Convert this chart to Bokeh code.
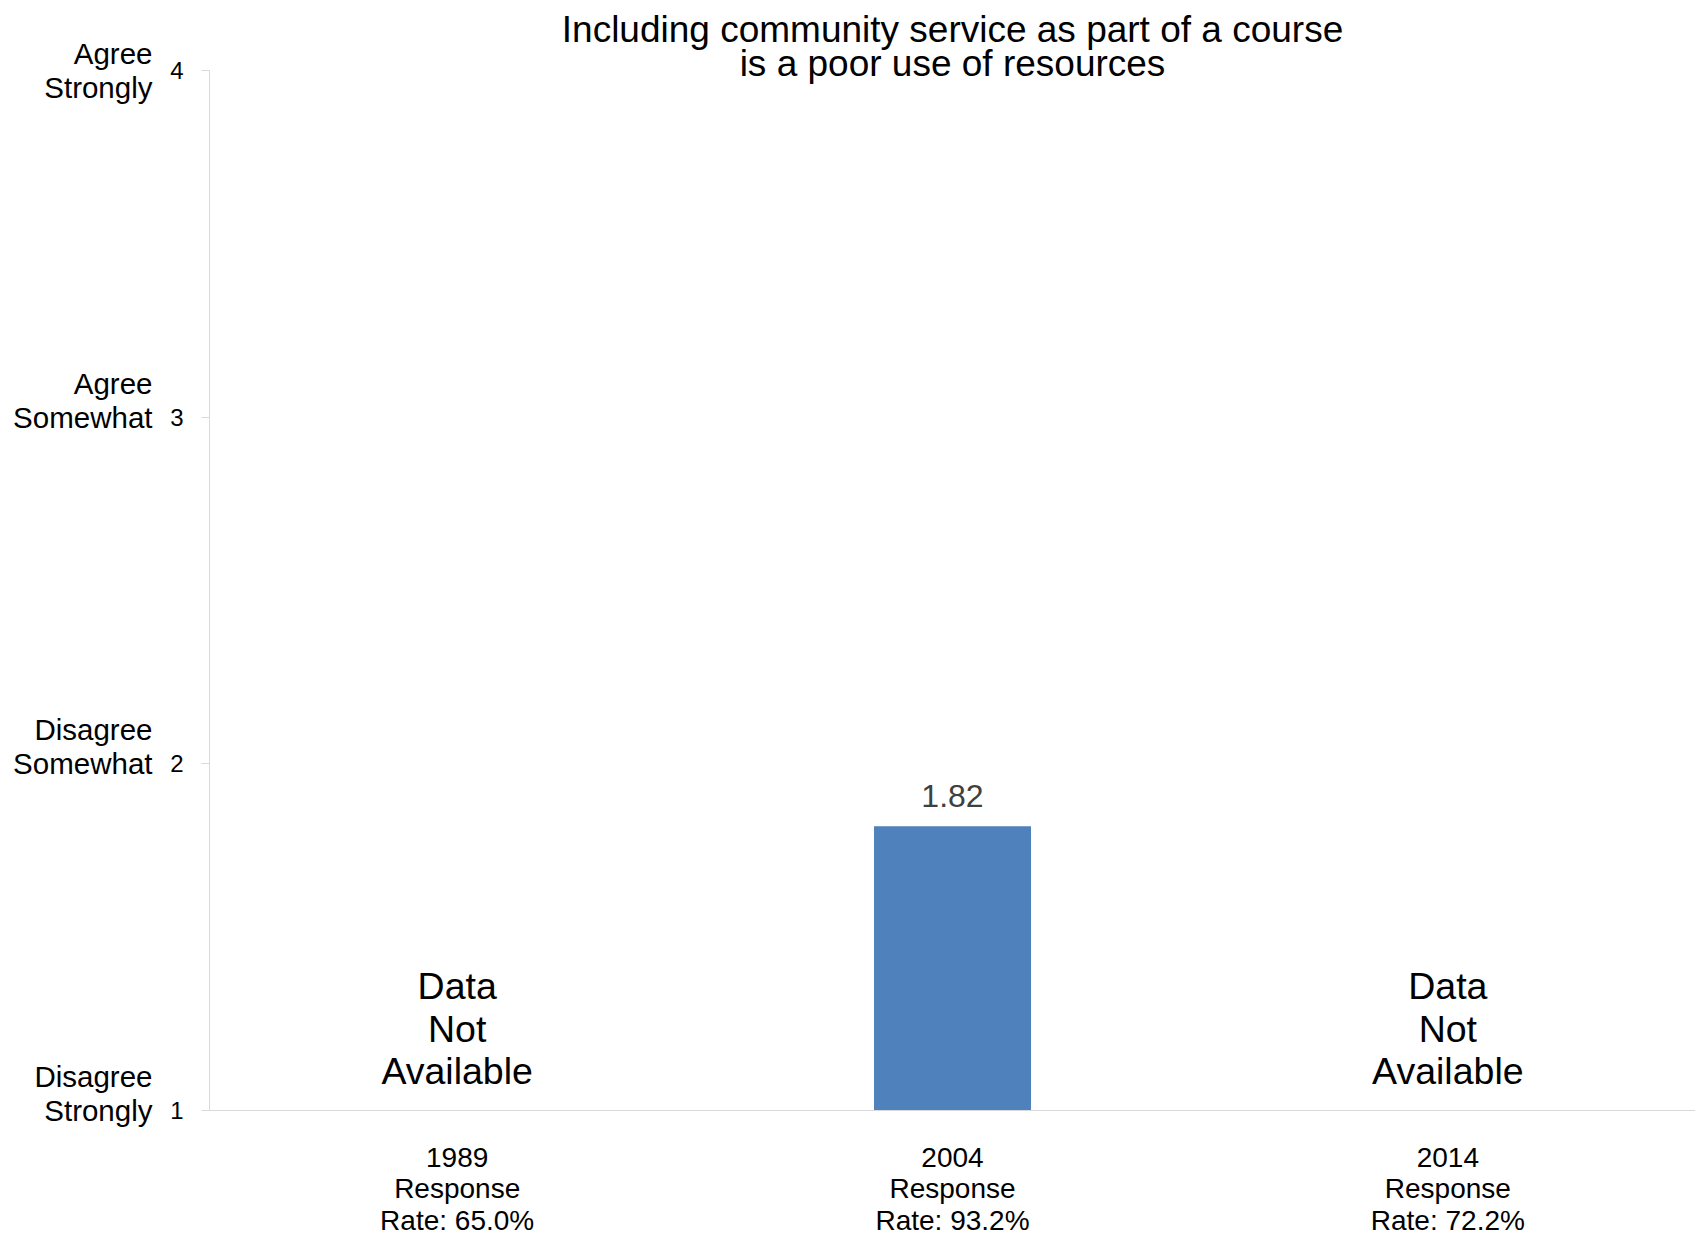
from bokeh.plotting import figure
from bokeh.models import (ColumnDataSource, FixedTicker, LinearAxis, Range1d, FactorRange, Title)
from bokeh.core.properties import value
from bokeh.embed import file_html
from bokeh.resources import INLINE

# ---- data ----
title_lines = ["Including community service as part of a course", "is a poor use of resources"]
years = ["1989", "2004", "2014"]
response_rates = ["65.0%", "93.2%", "72.2%"]
means = [None, 1.82, None]
scale_values = [1, 2, 3, 4]
scale_labels = ["Disagree\nStrongly", "Disagree\nSomewhat", "Agree\nSomewhat", "Agree\nStrongly"]
na_text = "Data\nNot\nAvailable"

FONT = "Liberation Sans"
BAR_COLOR = "#4f81bd"
AXIS_COLOR = "#d9d9d9"

factors = [f"{y}\nResponse\nRate: {r}" for y, r in zip(years, response_rates)]
y_min, y_max = min(scale_values), max(scale_values)

bar_src = ColumnDataSource(dict(
    x=[f for f, m in zip(factors, means) if m is not None],
    top=[m for m in means if m is not None],
    label=[f"{m:.2f}" for m in means if m is not None],
))
na_src = ColumnDataSource(dict(
    x=[f for f, m in zip(factors, means) if m is None],
    y=[y_min for m in means if m is None],
    text=[na_text for m in means if m is None],
))

p = figure(
    x_range=FactorRange(*factors, range_padding=0),
    y_range=Range1d(y_min, y_max),
    width=1695, height=1239,
    min_border_left=209, min_border_right=0, min_border_top=70, min_border_bottom=126,
    output_backend="svg", toolbar_location=None,
)
p.outline_line_color = None
p.xgrid.visible = False
p.ygrid.visible = False
p.background_fill_color = "white"
p.border_fill_color = "white"

# title: one centred Title per line (second line sits nearest the frame)
def style_title(t, standoff):
    t.align = "center"
    t.text_font = FONT
    t.text_font_size = "37px"
    t.text_font_style = "normal"
    t.text_color = "black"
    t.standoff = standoff

p.title.text = title_lines[0]
style_title(p.title, 7)
t2 = Title(text=title_lines[1])
style_title(t2, -26)
p.add_layout(t2, "above")

p.vbar(x="x", top="top", bottom=y_min, width=0.317, source=bar_src,
       fill_color=BAR_COLOR, line_color=None)

p.text(x="x", y="top", text="label", source=bar_src, text_align="center",
       text_baseline="bottom", y_offset=-19, text_font=value(FONT),
       text_font_size="32px", text_color="#404040")

p.text(x="x", y="y", text="text", source=na_src, text_align="center",
       text_baseline="bottom", y_offset=-18, text_font=value(FONT),
       text_font_size="37.5px", text_color="black", text_line_height=1.02)

# y axis (numbers)
ya = p.yaxis[0]
ya.ticker = FixedTicker(ticks=scale_values)
ya.axis_line_color = AXIS_COLOR
ya.major_tick_line_color = AXIS_COLOR
ya.major_tick_out = 8
ya.major_tick_in = 0
ya.minor_tick_line_color = None
ya.major_label_standoff = 18
ya.major_label_text_font = FONT
ya.major_label_text_font_size = "24px"
ya.major_label_text_color = "black"

# outer y axis (scale wording)
wa = LinearAxis(
    ticker=FixedTicker(ticks=scale_values),
    major_label_overrides={v: (lbl if v == y_max else lbl + "\n")
                           for v, lbl in zip(scale_values, scale_labels)},
    axis_line_color=None, major_tick_line_color=None, minor_tick_line_color=None,
    major_tick_out=0, major_tick_in=0,
    major_label_standoff=15,
    major_label_text_font=FONT, major_label_text_font_size="29.5px",
    major_label_text_color="black", major_label_text_line_height=1.03,
)
p.add_layout(wa, "left")

# x axis
xa = p.xaxis[0]
xa.axis_line_color = AXIS_COLOR
xa.major_tick_line_color = None
xa.minor_tick_line_color = None
xa.major_label_standoff = 25
xa.major_label_text_font = FONT
xa.major_label_text_font_size = "28px"
xa.major_label_text_color = "black"
xa.major_label_text_line_height = 1.03

open("out.html", "w").write(file_html(p, INLINE))
